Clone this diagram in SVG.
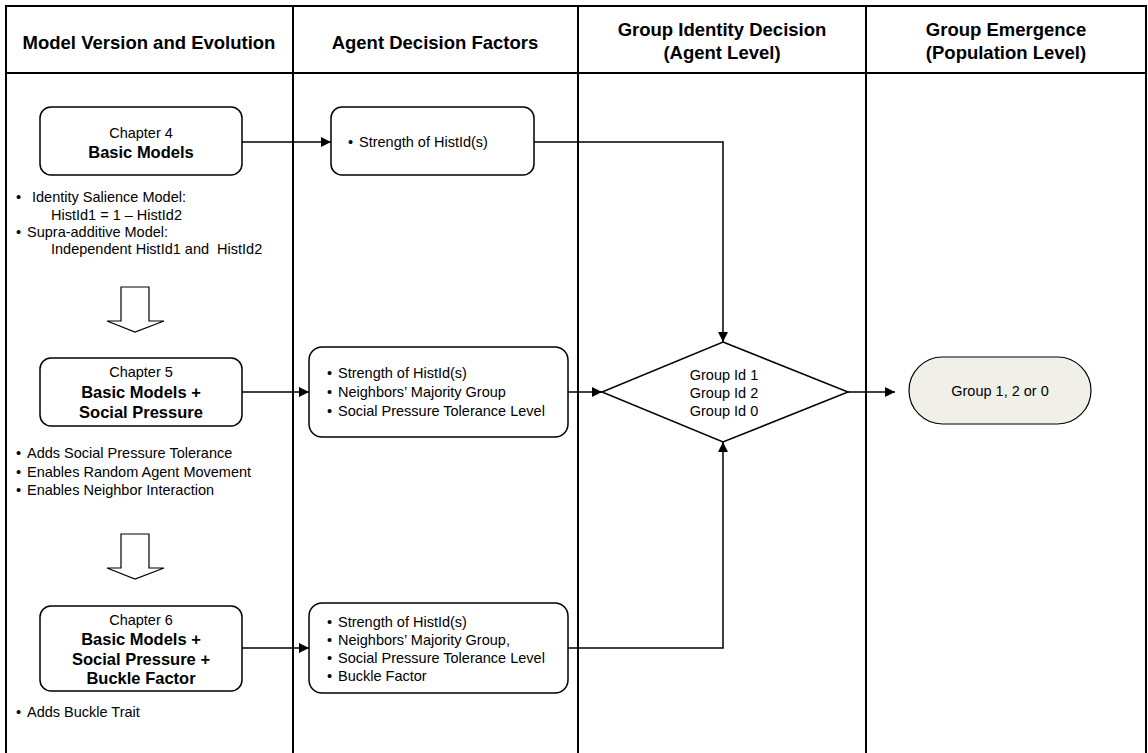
<svg xmlns="http://www.w3.org/2000/svg" width="1148" height="753" viewBox="0 0 1148 753">
<style>
text{font-family:"Liberation Sans",Arial,sans-serif;fill:#000}
.hd{font-size:18.5px;font-weight:bold;text-anchor:middle}
.t{font-size:14.5px}
.c{text-anchor:middle}
.b{font-size:16.5px;font-weight:bold;text-anchor:middle}
.box{fill:#fff;stroke:#000;stroke-width:1.5}
.frame{fill:none;stroke:#000;stroke-width:2}
.con{fill:none;stroke:#000;stroke-width:1.5}
.blk{fill:#fff;stroke:#000;stroke-width:1.2}
</style>
<defs>
<marker id="ah" viewBox="0 0 10 10" refX="10" refY="5" markerWidth="10" markerHeight="10" markerUnits="userSpaceOnUse" orient="auto">
<path d="M0,0 L10,5 L0,10 z" fill="#000"/>
</marker>
</defs>
<rect width="1148" height="753" fill="#fff"/>
<g id="lanes">
<path class="frame" d="M6,760 V6 H1146 V760 M6,73 H1146 M293,6 V760 M578,6 V760 M866,6 V760"/>
<text class="hd" x="149" y="49">Model Version and Evolution</text>
<text class="hd" x="435" y="49">Agent Decision Factors</text>
<text class="hd" x="722" y="36">Group Identity Decision</text>
<text class="hd" x="722" y="59">(Agent Level)</text>
<text class="hd" x="1006" y="36">Group Emergence</text>
<text class="hd" x="1006" y="59">(Population Level)</text>
</g>
<g id="connectors">
<path class="con" d="M242,142 H331" marker-end="url(#ah)"/>
<path class="con" d="M534,142 H723 V342" marker-end="url(#ah)"/>
<path class="con" d="M242,392 H309" marker-end="url(#ah)"/>
<path class="con" d="M568,392 H602" marker-end="url(#ah)"/>
<path class="con" d="M242,648 H309" marker-end="url(#ah)"/>
<path class="con" d="M568,648 H723 V442" marker-end="url(#ah)"/>
<path class="con" d="M848,392 H895" marker-end="url(#ah)"/>
<path class="blk" d="M121,287 H149 V321 H164 L135,332 L107,321 H121 Z"/>
<path class="blk" d="M121,534 H149 V568 H164 L135,579 L107,568 H121 Z"/>
</g>
<g id="ch4">
<rect class="box" x="40" y="107" width="202" height="68" rx="11"/>
<text class="t c" x="141" y="138">Chapter 4</text>
<text class="b" x="141" y="158">Basic Models</text>
</g>
<g id="ch4-notes">
<text class="t" x="16" y="202">•</text><text class="t" x="32" y="202">Identity Salience Model:</text>
<text class="t" x="51" y="220">HistId1 = 1 – HistId2</text>
<text class="t" x="16" y="237">•</text><text class="t" x="27" y="237">Supra-additive Model:</text>
<text class="t" x="51" y="254" xml:space="preserve">Independent HistId1 and  HistId2</text>
</g>
<g id="ch5">
<rect class="box" x="40" y="358" width="202" height="68" rx="11"/>
<text class="t c" x="141" y="377">Chapter 5</text>
<text class="b" x="141" y="398">Basic Models +</text>
<text class="b" x="141" y="418">Social Pressure</text>
</g>
<g id="ch5-notes">
<text class="t" x="16" y="458">•</text><text class="t" x="27" y="458">Adds Social Pressure Tolerance</text>
<text class="t" x="16" y="477">•</text><text class="t" x="27" y="477">Enables Random Agent Movement</text>
<text class="t" x="16" y="495">•</text><text class="t" x="27" y="495">Enables Neighbor Interaction</text>
</g>
<g id="ch6">
<rect class="box" x="40" y="606" width="202" height="85" rx="11"/>
<text class="t c" x="141" y="625">Chapter 6</text>
<text class="b" x="141" y="645">Basic Models +</text>
<text class="b" x="141" y="665">Social Pressure +</text>
<text class="b" x="141" y="684">Buckle Factor</text>
</g>
<g id="ch6-notes">
<text class="t" x="16" y="717">•</text><text class="t" x="27" y="717">Adds Buckle Trait</text>
</g>
<g id="factors1">
<rect class="box" x="331" y="107" width="203" height="68" rx="11"/>
<text class="t" x="348" y="147">•</text><text class="t" x="359" y="147">Strength of HistId(s)</text>
</g>
<g id="factors2">
<rect class="box" x="309" y="347" width="259" height="90" rx="13"/>
<text class="t" x="327" y="378">•</text><text class="t" x="338" y="378">Strength of HistId(s)</text>
<text class="t" x="327" y="397">•</text><text class="t" x="338" y="397">Neighbors’ Majority Group</text>
<text class="t" x="327" y="416">•</text><text class="t" x="338" y="416">Social Pressure Tolerance Level</text>
</g>
<g id="factors3">
<rect class="box" x="309" y="603" width="259" height="90" rx="13"/>
<text class="t" x="327" y="627">•</text><text class="t" x="338" y="627">Strength of HistId(s)</text>
<text class="t" x="327" y="645">•</text><text class="t" x="338" y="645">Neighbors’ Majority Group,</text>
<text class="t" x="327" y="663">•</text><text class="t" x="338" y="663">Social Pressure Tolerance Level</text>
<text class="t" x="327" y="681">•</text><text class="t" x="338" y="681">Buckle Factor</text>
</g>
<g id="decision">
<path class="box" d="M723,342 L848,392 L723,442 L602,392 Z"/>
<text class="t c" x="724" y="380">Group Id 1</text>
<text class="t c" x="724" y="398">Group Id 2</text>
<text class="t c" x="724" y="416">Group Id 0</text>
</g>
<g id="emergence">
<rect x="909" y="357" width="182" height="67" rx="33.5" fill="#f0f0e9" stroke="#000" stroke-width="1.2"/>
<text class="t c" x="1000" y="396">Group 1, 2 or 0</text>
</g>
</svg>
